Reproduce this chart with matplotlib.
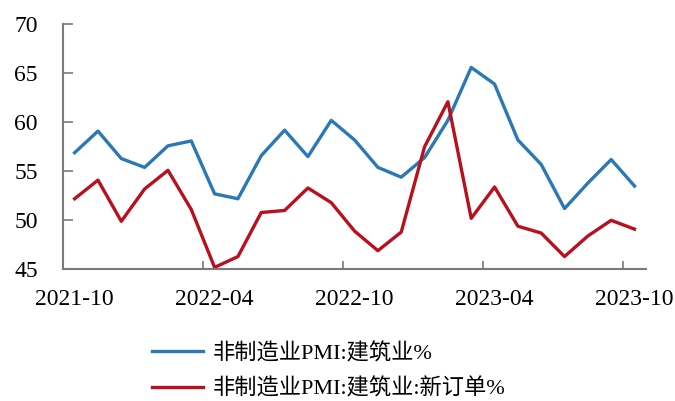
import numpy as np
import matplotlib.pyplot as plt

plt.rcParams['font.family'] = ['Liberation Serif', 'Noto Sans CJK SC']

months = ['2021-10', '2021-11', '2021-12', '2022-01', '2022-02', '2022-03',
          '2022-04', '2022-05', '2022-06', '2022-07', '2022-08', '2022-09',
          '2022-10', '2022-11', '2022-12', '2023-01', '2023-02', '2023-03',
          '2023-04', '2023-05', '2023-06', '2023-07', '2023-08', '2023-09',
          '2023-10']
construction = [56.9, 59.1, 56.3, 55.4, 57.6, 58.1, 52.7, 52.2, 56.6, 59.2,
                56.5, 60.2, 58.2, 55.4, 54.4, 56.4, 60.2, 65.6, 63.9, 58.2,
                55.7, 51.2, 53.8, 56.2, 53.5]
new_orders = [52.2, 54.1, 49.9, 53.2, 55.1, 51.1, 45.2, 46.3, 50.8, 51.0,
              53.3, 51.8, 48.9, 46.9, 48.8, 57.5, 62.1, 50.2, 53.4, 49.4,
              48.7, 46.3, 48.4, 50.0, 49.1]
series_names = ['非制造业PMI:建筑业%', '非制造业PMI:建筑业:新订单%']

fig = plt.figure(figsize=(6.75, 4.01), dpi=100)
ax = fig.add_axes([0.0933, 0.3284, 0.864, 0.611])

x = np.arange(len(months))
ax.plot(x, construction, color='#2a78b6', lw=2.4, label=series_names[0])
ax.plot(x, new_orders, color='#b8101c', lw=2.4, label=series_names[1])

ax.set_xlim(-0.5, len(months) - 0.5)
ax.set_ylim(45, 70)
ax.set_yticks(np.arange(45, 71, 5))

# labels sit on the months, tick marks sit between months
label_idx = x[::6]
ax.set_xticks(label_idx)
ax.set_xticklabels([months[i] for i in label_idx])
ax.set_xticks(label_idx - 0.5, minor=True)
ax.tick_params(axis='x', which='major', length=0, pad=14, labelsize=17)
ax.tick_params(axis='x', which='minor', direction='in', length=6,
               width=1.2, color='#7a7a7a')
ax.tick_params(axis='y', direction='in', length=7, width=1.2,
               color='#7a7a7a', pad=18, labelsize=17)

for side in ['top', 'right']:
    ax.spines[side].set_visible(False)
for side in ['left', 'bottom']:
    ax.spines[side].set_color('#7a7a7a')
    ax.spines[side].set_linewidth(1.5)

fig.legend(loc='upper left', bbox_to_anchor=(0.225, 0.145), frameon=False,
           fontsize=16, handlelength=2.3, handletextpad=0.45,
           labelspacing=0.64, borderpad=0, borderaxespad=0)

fig.savefig('out.png', dpi=100)
